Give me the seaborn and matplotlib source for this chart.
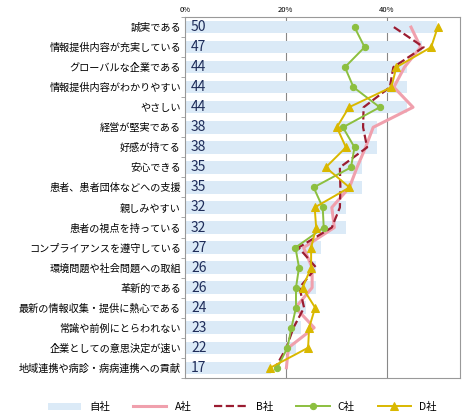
import matplotlib
import matplotlib.pyplot as plt
import numpy as np
import pandas as pd
import seaborn as sns

matplotlib.use("Agg")

CATEGORIES = [
    "誠実である", "情報提供内容が充実している", "グローバルな企業である",
    "情報提供内容がわかりやすい", "やさしい", "経営が堅実である", "好感が持てる",
    "安心できる", "患者、患者団体などへの支援", "親しみやすい", "患者の視点を持っている",
    "コンプライアンスを遵守している", "環境問題や社会問題への取組", "革新的である",
    "最新の情報収集・提供に熱心である", "常識や前例にとらわれない",
    "企業としての意思決定が速い", "地域連携や病診・病病連携への貢献",
]
OWN = [50, 47, 44, 44, 44, 38, 38, 35, 35, 32, 32, 27, 26, 26, 24, 23, 22, 17]
A_CO = [44.8, 46.7, 43.5, 41.4, 45.2, 37.3, 35.8, 34.1, 32.6, 29.1, 29.6, 23.5, 25.2, 25.2, 21.9, 25.6, 20.5, 20.1]
B_CO = [41.4, 47.3, 41.3, 40.6, 35.4, 35.3, 36.1, 30.7, 30.8, 30.7, 29.1, 22.5, 26.0, 22.7, 23.6, 21.5, 20.1, 17.9]
C_CO = [33.6, 35.6, 31.7, 33.4, 38.6, 31.3, 33.6, 32.9, 25.5, 27.3, 27.5, 21.9, 22.6, 22.0, 22.0, 21.1, 20.3, 18.3]
D_CO = [50.1, 48.8, 41.9, 40.9, 32.5, 30.1, 31.9, 27.9, 32.6, 25.7, 26.0, 25.0, 25.0, 23.3, 25.8, 24.6, 24.4, 16.9]
XTICKS = [0, 20, 40]

plt.rcParams["font.family"] = ["Noto Sans CJK JP", "DejaVu Sans"]

fig = plt.figure(figsize=(4.66, 4.17), dpi=100)
ax = fig.add_axes([0.397, 0.094, 0.59, 0.865])

pos = np.arange(len(CATEGORIES))
df = pd.DataFrame({"cat": CATEGORIES, "own": OWN})
sns.barplot(data=df, x="own", y="cat", color="#dbeaf7", width=0.62,
            ax=ax, label="自社", saturation=1)

series = [
    ("A社", A_CO, "#f0a0ad", "-", None, 2.2),
    ("B社", B_CO, "#9b1c31", "--", None, 1.6),
    ("C社", C_CO, "#8cbf3f", "-", "o", 1.4),
    ("D社", D_CO, "#d9b800", "-", "^", 1.4),
]
for name, vals, color, ls, marker, lw in series:
    sns.lineplot(x=vals, y=pos, sort=False, orient="y", color=color,
                 linestyle=ls, marker=marker, markersize=6 if marker == "^" else 4.5,
                 markeredgecolor=color, linewidth=lw, label=name, ax=ax)

for i, v in enumerate(OWN):
    ax.text(1.2, i, str(v), va="center", ha="left", fontsize=10, color="#1f2d5a")

ax.set_xlim(0, 54.5)
ax.set_ylim(len(CATEGORIES) - 0.5, -0.5)
ax.set_xticks(XTICKS)
ax.set_xticklabels([f"{t}%" for t in XTICKS], fontsize=5.5)
ax.xaxis.tick_top()
ax.tick_params(axis="x", length=0, pad=2)
ax.tick_params(axis="y", length=0, labelsize=7.3, pad=3)
ax.set_xlabel("")
ax.set_ylabel("")
for t in XTICKS[1:]:
    ax.axvline(t, color="#888888", linewidth=0.8, zorder=0.5)
for s in ax.spines.values():
    s.set_color("#999999")
    s.set_linewidth(0.8)
ax.set_yticks(pos)
ax.set_yticks(np.arange(len(CATEGORIES) + 1) - 0.5, minor=True)
ax.tick_params(axis="y", which="minor", length=3, color="#999999")

handles, labels = ax.get_legend_handles_labels()
order = [labels.index(n) for n in ["自社", "A社", "B社", "C社", "D社"]]
if ax.get_legend():
    ax.get_legend().remove()
fig.legend([handles[i] for i in order], [labels[i] for i in order],
           loc="lower center", ncol=5, frameon=False,
           fontsize=7.5, bbox_to_anchor=(0.52, -0.01), handlelength=3.2,
           columnspacing=2.2)

fig.savefig("out.png", dpi=100)
